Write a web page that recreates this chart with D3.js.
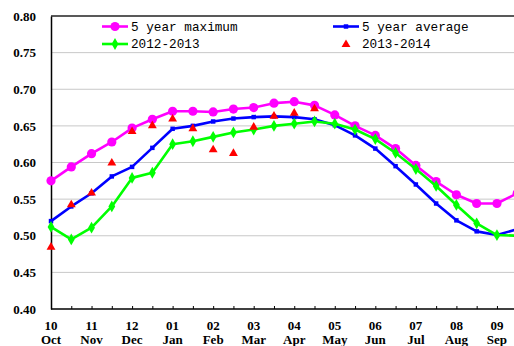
<!DOCTYPE html>
<html>
<head>
<meta charset="utf-8">
<script src="https://cdn.jsdelivr.net/npm/d3@7"></script>
<style>
  html, body { margin: 0; padding: 0; background: #fff; }
  svg { display: block; }
</style>
</head>
<body>
<svg id="chart" width="514" height="346"></svg>
<script>
// Half-month steps from early October to late September
const monthNums = ["10", "11", "12", "01", "02", "03", "04", "05", "06", "07", "08", "09"];
const monthNames = ["Oct", "Nov", "Dec", "Jan", "Feb", "Mar", "Apr", "May", "Jun", "Jul", "Aug", "Sep"];
const yTicks = [0.40, 0.45, 0.50, 0.55, 0.60, 0.65, 0.70, 0.75, 0.80];

const fiveYearMax = [0.575, 0.594, 0.612, 0.628, 0.647, 0.659, 0.670, 0.670, 0.669, 0.673, 0.675, 0.681,
                     0.683, 0.678, 0.665, 0.650, 0.637, 0.619, 0.596, 0.574, 0.556, 0.544, 0.544, 0.558];
const fiveYearAvg = [0.520, 0.540, 0.558, 0.581, 0.594, 0.620, 0.646, 0.650, 0.656, 0.660, 0.662, 0.663,
                     0.662, 0.659, 0.651, 0.637, 0.619, 0.595, 0.570, 0.544, 0.521, 0.506, 0.501, 0.509];
const season1213 = [0.512, 0.495, 0.511, 0.540, 0.579, 0.586, 0.625, 0.629, 0.635, 0.641, 0.645, 0.650,
                    0.653, 0.656, 0.653, 0.645, 0.632, 0.613, 0.591, 0.568, 0.542, 0.517, 0.501, 0.500];
const season1314 = [0.485, 0.543, 0.559, 0.600, 0.643, 0.651, 0.660, 0.647, 0.618, 0.613, 0.649, 0.664,
                    0.668, 0.674];

(function () {
  const svg = d3.select("#chart");
  const W = 514;
  const plotLeft = 51, plotTop = 16, plotBottom = 309;
  const step = 20.27;
  const tickFont = sel => sel
    .style("font-family", "'Liberation Serif', serif")
    .style("font-weight", "bold")
    .style("font-size", "13px")
    .style("fill", "#000");

  const x = d3.scaleLinear().domain([0, 23]).range([plotLeft, plotLeft + 23 * step]);
  const y = d3.scaleLinear().domain([0.40, 0.80]).range([plotBottom, plotTop]);

  // Horizontal gridlines
  svg.append("g")
    .selectAll("line")
    .data(yTicks.filter(v => v > 0.40 && v < 0.80))
    .join("line")
    .attr("x1", plotLeft).attr("x2", W)
    .attr("y1", d => y(d)).attr("y2", d => y(d))
    .attr("stroke", "#c8c8c8").attr("stroke-width", 1);

  // Top frame line
  svg.append("line")
    .attr("x1", plotLeft).attr("x2", W)
    .attr("y1", y(0.80)).attr("y2", y(0.80))
    .attr("stroke", "#222").attr("stroke-width", 1.5);

  // Y axis
  const yAxis = svg.append("g")
    .attr("transform", `translate(${plotLeft},0)`)
    .call(d3.axisLeft(y).tickValues(yTicks).tickSize(0).tickPadding(15).tickFormat(d3.format(".2f")));
  yAxis.select(".domain").attr("stroke", "#000").attr("stroke-width", 1.5);
  yAxis.selectAll(".tick text").call(tickFont);

  // X axis with inward half-month ticks
  const xAxis = svg.append("g")
    .attr("transform", `translate(0,${plotBottom})`)
    .call(d3.axisBottom(x).tickValues(d3.range(0, 24)).tickSizeInner(-3).tickSizeOuter(0).tickFormat(""));
  xAxis.select(".domain").attr("d", `M${plotLeft},0H${W}`).attr("stroke", "#000").attr("stroke-width", 1.5);
  xAxis.selectAll(".tick line").attr("stroke", "#000");

  // Two-line month labels
  const labels = svg.append("g");
  monthNums.forEach((m, i) => {
    const t = labels.append("text")
      .attr("text-anchor", "middle")
      .attr("x", x(i * 2))
      .attr("y", 329.5)
      .call(tickFont);
    t.append("tspan").attr("x", x(i * 2)).text(m);
    t.append("tspan").attr("x", x(i * 2)).attr("dy", 14.5).text(monthNames[i]);
  });

  const line = d3.line().x((d, i) => x(i)).y(d => y(d));

  function drawLine(values, color, width) {
    svg.append("path")
      .datum(values)
      .attr("fill", "none")
      .attr("stroke", color)
      .attr("stroke-width", width)
      .attr("stroke-linejoin", "round")
      .attr("d", line);
  }

  const square = d3.symbol().type(d3.symbolSquare).size(20);
  const diamond = d3.symbol().type(d3.symbolDiamond).size(40);
  const triangle = d3.symbol().type(d3.symbolTriangle).size(34);

  // 5 year maximum
  drawLine(fiveYearMax, "#ff00ff", 2.6);
  svg.append("g").selectAll("circle").data(fiveYearMax).join("circle")
    .attr("cx", (d, i) => x(i)).attr("cy", d => y(d)).attr("r", 4.6).attr("fill", "#ff00ff");

  // 5 year average
  drawLine(fiveYearAvg, "#0000ff", 2.6);
  svg.append("g").selectAll("path").data(fiveYearAvg).join("path")
    .attr("d", square).attr("transform", (d, i) => `translate(${x(i)},${y(d)})`).attr("fill", "#0000ff");

  // 2012-2013
  drawLine(season1213, "#00ff00", 2.6);
  svg.append("g").selectAll("path").data(season1213).join("path")
    .attr("d", diamond)
    .attr("transform", (d, i) => `translate(${x(i)},${y(d)})`).attr("fill", "#00ff00");

  // 2013-2014 (markers only)
  svg.append("g").selectAll("path").data(season1314).join("path")
    .attr("d", triangle).attr("transform", (d, i) => `translate(${x(i)},${y(d) + 0.5})`).attr("fill", "#ff0000");

  // Legend
  const legendItems = [
    { name: "5 year maximum", color: "#ff00ff", kind: "circle", lx: 102, ty: 26.5 },
    { name: "2012-2013", color: "#00ff00", kind: "diamond", lx: 102, ty: 44 },
    { name: "5 year average", color: "#0000ff", kind: "square", lx: 333, ty: 26.5 },
    { name: "2013-2014", color: "#ff0000", kind: "triangle", lx: 333, ty: 44 }
  ];
  const legend = svg.append("g");
  legendItems.forEach(it => {
    const g = legend.append("g");
    const cx = it.lx + 13;
    if (it.kind !== "triangle") {
      g.append("line").attr("x1", it.lx).attr("x2", it.lx + 26)
        .attr("y1", it.ty).attr("y2", it.ty)
        .attr("stroke", it.color).attr("stroke-width", 2.6);
    }
    if (it.kind === "circle") {
      g.append("circle").attr("cx", cx).attr("cy", it.ty).attr("r", 4.6).attr("fill", it.color);
    } else if (it.kind === "square") {
      g.append("path").attr("d", square).attr("transform", `translate(${cx},${it.ty})`).attr("fill", it.color);
    } else if (it.kind === "diamond") {
      g.append("path").attr("d", diamond).attr("transform", `translate(${cx},${it.ty})`).attr("fill", it.color);
    } else {
      g.append("path").attr("d", triangle).attr("transform", `translate(${cx},${it.ty + 0.5})`).attr("fill", it.color);
    }
    g.append("text")
      .style("font-family", "'Liberation Mono', monospace")
      .style("font-size", "12.7px")
      .style("fill", "#000")
      .attr("x", it.lx + 29).attr("y", it.ty).attr("dy", "0.35em")
      .text(it.name);
  });
})();
</script>
</body>
</html>
